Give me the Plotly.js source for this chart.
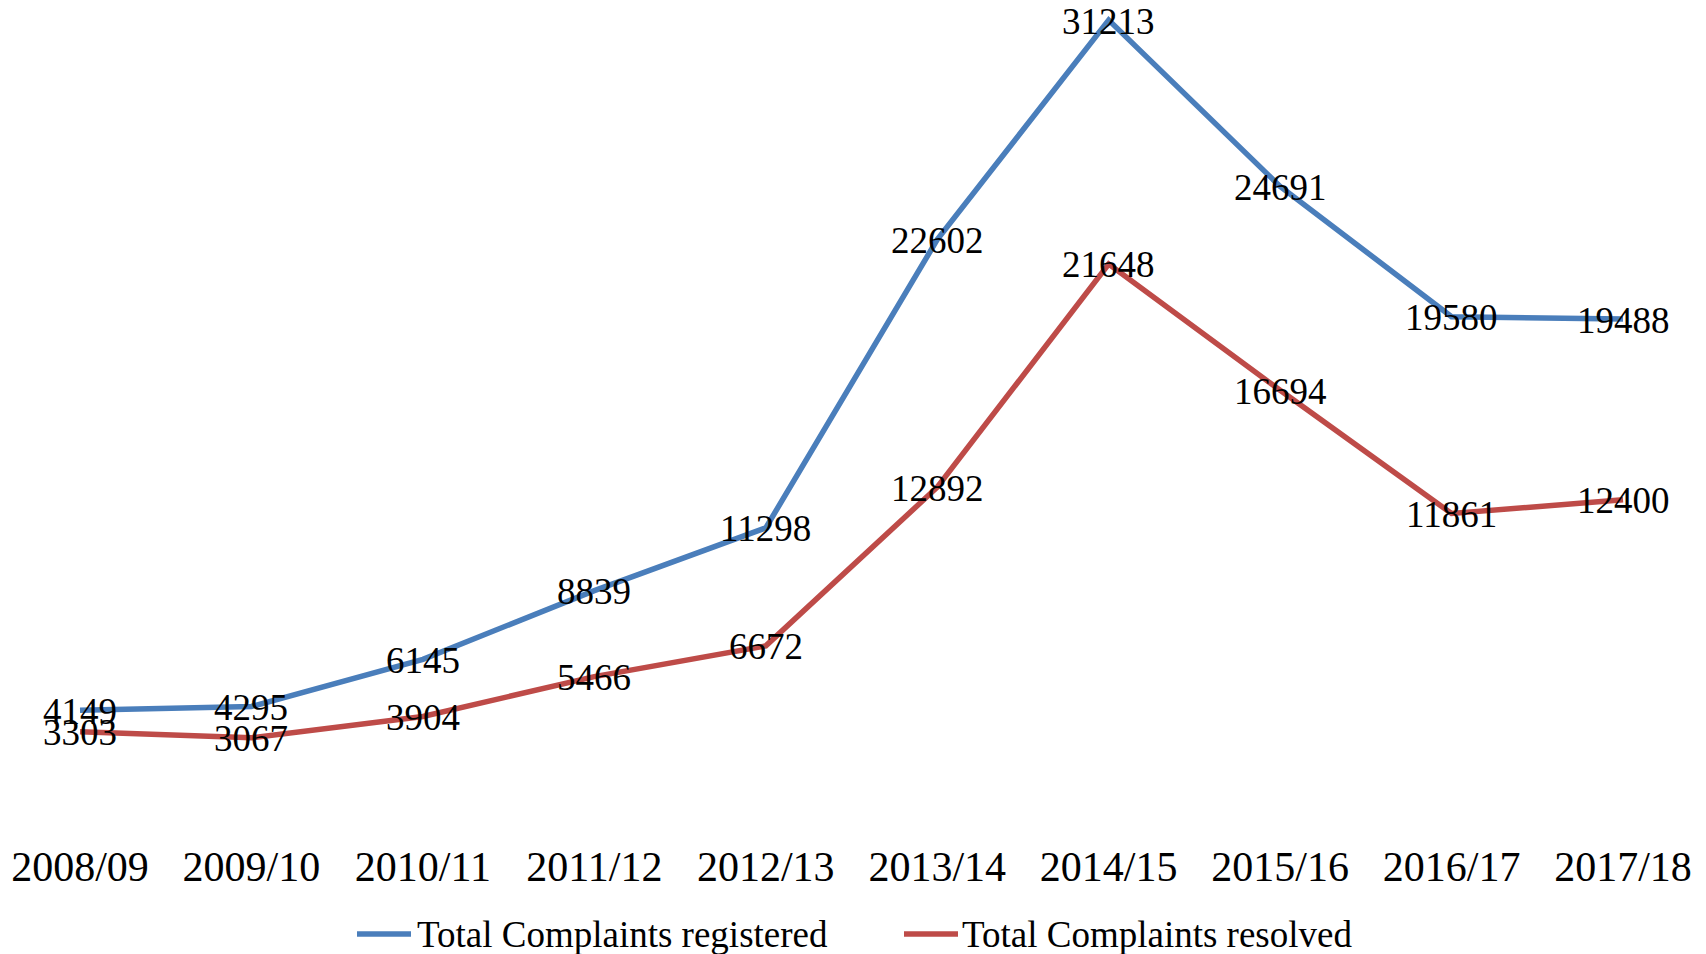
<!DOCTYPE html>
<html>
<head>
<meta charset="utf-8">
<script src="https://cdn.plot.ly/plotly-3.0.1.min.js"></script>
<style>html,body{margin:0;padding:0;background:#fff;}#chart{width:1706px;height:954px;}</style>
</head>
<body>
<div id="chart"></div>
<script>
var categories = ["2008/09","2009/10","2010/11","2011/12","2012/13","2013/14","2014/15","2015/16","2016/17","2017/18"];
var registered = [4149, 4295, 6145, 8839, 11298, 22602, 31213, 24691, 19580, 19488];
var resolved = [3303, 3067, 3904, 5466, 6672, 12892, 21648, 16694, 11861, 12400];
var seriesNames = ["Total Complaints registered", "Total Complaints resolved"];

var FONT = '"Liberation Serif", "Times New Roman", serif';
var blue = '#4A7EBB', red = '#BE4B48';
var W = 1706, H = 954, T = 0, B = 138;
var PH = H - T - B;
function px(x) { return x / W; }
function py(y) { return (H - B - y) / PH; }

var traces = [
  {x: categories, y: registered, name: seriesNames[0], mode: 'lines', type: 'scatter',
   line: {color: blue, width: 5.5}, hoverinfo: 'x+y', cliponaxis: false},
  {x: categories, y: resolved, name: seriesNames[1], mode: 'lines', type: 'scatter',
   line: {color: red, width: 5.5}, hoverinfo: 'x+y', cliponaxis: false}
];

// data labels, placed on the points through the axes
var labelFont = {family: FONT, size: 37, color: '#000'};
var annotations = [];
[registered, resolved].forEach(function (series) {
  series.forEach(function (v, i) {
    annotations.push({xref: 'x', yref: 'y', x: categories[i], y: v, text: String(v),
      showarrow: false, xanchor: 'center', yanchor: 'middle', yshift: -1, font: labelFont});
  });
});

var legendY = 934;
var shapes = [
  {type: 'line', xref: 'paper', yref: 'paper', x0: px(357), x1: px(411), y0: py(legendY), y1: py(legendY),
   line: {color: blue, width: 5.5}},
  {type: 'line', xref: 'paper', yref: 'paper', x0: px(904), x1: px(958), y0: py(legendY), y1: py(legendY),
   line: {color: red, width: 5.5}}
];
annotations.push(
  {xref: 'paper', yref: 'paper', x: px(415), y: py(legendY), xanchor: 'left', yanchor: 'middle',
   text: seriesNames[0], showarrow: false, font: labelFont},
  {xref: 'paper', yref: 'paper', x: px(960), y: py(legendY), xanchor: 'left', yanchor: 'middle',
   text: seriesNames[1], showarrow: false, font: labelFont}
);

var layout = {
  width: W, height: H,
  margin: {l: 0, r: 0, t: T, b: B, pad: 0},
  paper_bgcolor: '#fff', plot_bgcolor: '#fff',
  font: {family: FONT, color: '#000'},
  xaxis: {type: 'category', range: [-0.4666, 9.484], showgrid: false, zeroline: false,
          showline: false, ticks: '', tickfont: {family: FONT, size: 42, color: '#000'},
          ticklabelstandoff: 22, fixedrange: true},
  yaxis: {range: [0, 32000], visible: false, showgrid: false, zeroline: false, fixedrange: true},
  showlegend: false,
  shapes: shapes,
  annotations: annotations
};

Plotly.newPlot('chart', traces, layout, {displayModeBar: false, staticPlot: true});
</script>
</body>
</html>
